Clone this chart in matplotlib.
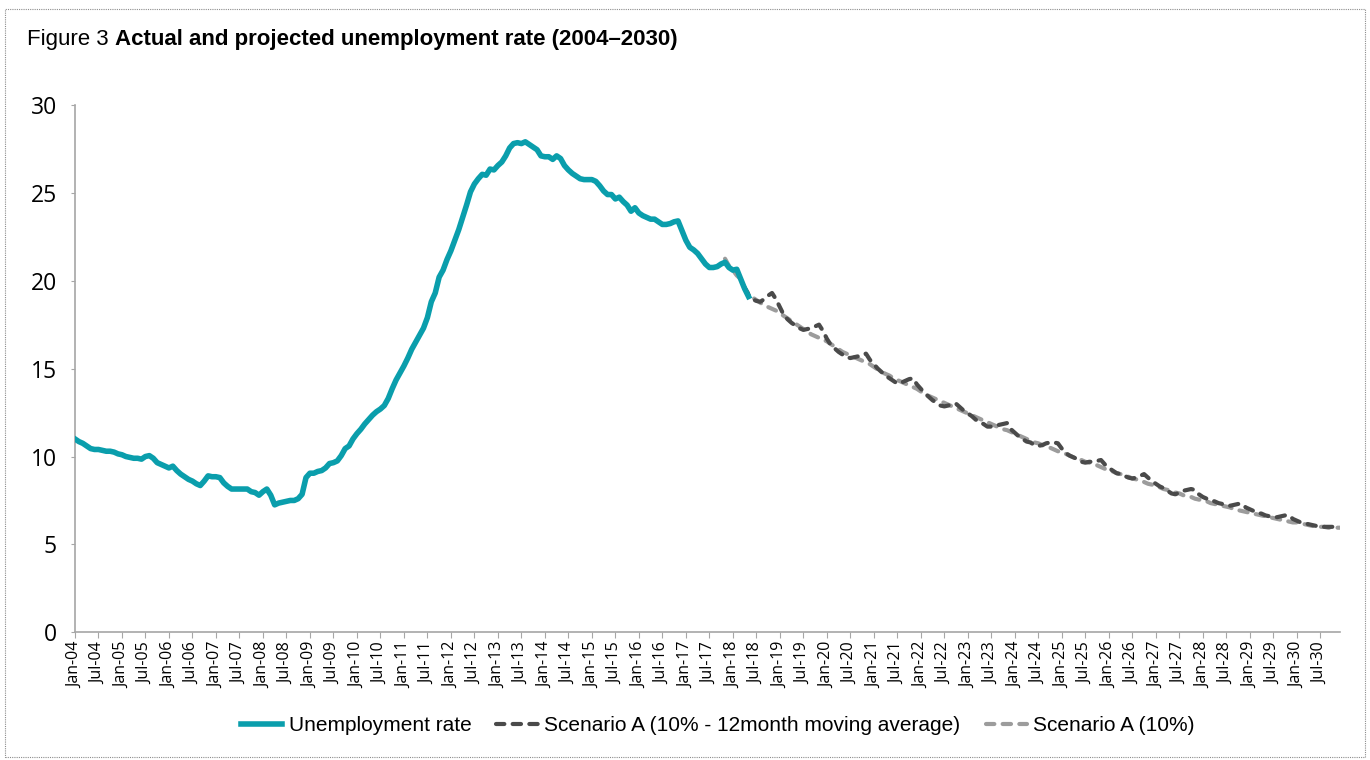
import numpy as np
import matplotlib
matplotlib.use("Agg")
import matplotlib.pyplot as plt
from matplotlib.patches import Rectangle

# monthly data, Jan-04 .. Dec-30
start_year = 2004
end_year = 2030

# actual unemployment rate, Jan-04 .. May-18
actual = [
    11.0, 10.85, 10.75, 10.6, 10.45, 10.4, 10.4, 10.35, 10.3, 10.3, 10.25, 10.15,
    10.1, 10.0, 9.95, 9.9, 9.9, 9.85, 10.0, 10.05, 9.9, 9.65, 9.55, 9.45,
    9.35, 9.45, 9.2, 9.0, 8.85, 8.7, 8.6, 8.45, 8.35, 8.6, 8.9, 8.85,
    8.85, 8.8, 8.5, 8.3, 8.15, 8.15, 8.15, 8.15, 8.15, 8.0, 7.95, 7.8,
    8.0, 8.15, 7.8, 7.25, 7.35, 7.4, 7.45, 7.5, 7.5, 7.6, 7.85, 8.8,
    9.05, 9.05, 9.15, 9.2, 9.35, 9.6, 9.65, 9.75, 10.05, 10.45, 10.6, 11.0,
    11.3, 11.55, 11.85, 12.1, 12.35, 12.55, 12.7, 12.9, 13.3, 13.85, 14.35, 14.75,
    15.15, 15.6, 16.1, 16.5, 16.9, 17.3, 17.9, 18.8, 19.3, 20.2, 20.6, 21.2,
    21.7, 22.3, 22.9, 23.6, 24.3, 25.05, 25.5, 25.8, 26.05, 26.0, 26.35, 26.3,
    26.55, 26.75, 27.1, 27.55, 27.8, 27.85, 27.8, 27.9, 27.75, 27.6, 27.45, 27.1,
    27.05, 27.05, 26.9, 27.1, 26.95, 26.55, 26.3, 26.1, 25.95, 25.8, 25.75, 25.75,
    25.75, 25.65, 25.4, 25.1, 24.9, 24.9, 24.65, 24.75, 24.5, 24.3, 23.95, 24.15,
    23.85, 23.7, 23.6, 23.5, 23.5, 23.35, 23.2, 23.2, 23.25, 23.35, 23.4, 22.85,
    22.3, 21.9, 21.75, 21.55, 21.25, 20.95, 20.75, 20.75, 20.8, 20.95, 21.05, 20.75,
    20.6, 20.65, 20.1, 19.55, 19.1,
]

# Scenario A (10% - 12month moving average), Apr-18 .. Dec-30
scen_ma_start = 171
scen_ma = [
    19.6, 19.2, 18.95, 18.85, 18.8, 18.95, 19.15, 19.3, 18.95,
    18.5, 18.05, 17.8, 17.6, 17.45, 17.3, 17.2, 17.25, 17.3, 17.4, 17.5, 17.15,
    16.7, 16.35, 16.15, 15.95, 15.8, 15.65, 15.6, 15.65, 15.7, 15.8, 15.85, 15.5,
    15.25, 15.0, 14.8, 14.6, 14.45, 14.3, 14.15, 14.2, 14.3, 14.4, 14.45, 14.1,
    13.85, 13.6, 13.4, 13.2, 13.05, 12.9, 12.85, 12.9, 13.0, 13.0, 12.8, 12.6,
    12.45, 12.3, 12.1, 11.95, 11.85, 11.7, 11.7, 11.75, 11.8, 11.85, 11.9, 11.55,
    11.35, 11.15, 11.0, 10.85, 10.8, 10.65, 10.6, 10.65, 10.75, 10.8, 10.8, 10.75,
    10.45, 10.2, 10.05, 9.95, 9.85, 9.7, 9.65, 9.7, 9.7, 9.75, 9.8, 9.55,
    9.35, 9.2, 9.05, 9.0, 8.9, 8.8, 8.75, 8.8, 8.9, 9.0, 8.8, 8.6,
    8.45, 8.3, 8.2, 8.05, 7.9, 7.85, 7.95, 8.05, 8.1, 8.15, 8.1, 7.85,
    7.7, 7.6, 7.5, 7.45, 7.35, 7.3, 7.25, 7.2, 7.25, 7.3, 7.3, 7.1,
    7.0, 6.9, 6.8, 6.75, 6.65, 6.6, 6.55, 6.55, 6.6, 6.65, 6.65, 6.45,
    6.35, 6.25, 6.2, 6.15, 6.1, 6.05, 6.0, 6.0, 6.0, 6.0, 6.0, 6.0,
]

# Scenario A (10%), Nov-17 .. Dec-30
scen_start = 166
scen = [
    21.25, 20.85, 20.6, 20.3, 20.1, 19.6, 19.25, 19.05, 18.9, 18.75, 18.6, 18.5, 18.4, 18.3,
    18.15, 18.0, 17.85, 17.7, 17.55, 17.4, 17.25, 17.1, 16.95, 16.85, 16.75, 16.65,
    16.55, 16.4, 16.25, 16.1, 15.95, 15.85, 15.75, 15.65, 15.55, 15.45, 15.35, 15.25,
    15.1, 14.95, 14.8, 14.7, 14.6, 14.45, 14.35, 14.25, 14.15, 14.05, 13.95, 13.85,
    13.7, 13.55, 13.45, 13.35, 13.25, 13.15, 13.05, 12.95, 12.85, 12.75, 12.65, 12.55,
    12.45, 12.35, 12.25, 12.15, 12.05, 11.95, 11.85, 11.75, 11.65, 11.55, 11.5, 11.4,
    11.3, 11.2, 11.1, 11.0, 10.9, 10.8, 10.75, 10.65, 10.55, 10.5, 10.4, 10.3,
    10.25, 10.15, 10.05, 9.95, 9.9, 9.8, 9.7, 9.65, 9.55, 9.5, 9.4, 9.3,
    9.25, 9.15, 9.05, 9.0, 8.9, 8.85, 8.75, 8.7, 8.6, 8.55, 8.45, 8.4,
    8.3, 8.25, 8.15, 8.1, 8.0, 7.95, 7.9, 7.8, 7.75, 7.7, 7.6, 7.55,
    7.5, 7.45, 7.35, 7.3, 7.25, 7.2, 7.15, 7.1, 7.0, 6.95, 6.9, 6.85,
    6.8, 6.75, 6.7, 6.65, 6.6, 6.55, 6.5, 6.45, 6.4, 6.35, 6.3, 6.25,
    6.25, 6.2, 6.15, 6.1, 6.05, 6.05, 6.0, 6.0, 5.95, 5.95, 5.95, 5.95,
]

months = ["Jan", "Jul"]
tick_labels = [f"{m}-{y % 100:02d}" for y in range(start_year, end_year + 1) for m in months]

n_months = (end_year - start_year + 1) * 12
x_actual = np.arange(len(actual))
x_ma = np.arange(scen_ma_start, scen_ma_start + len(scen_ma))
x_scen = np.arange(scen_start, scen_start + len(scen))

teal = "#0A9EAC"
dark = "#4A4A4A"
light = "#9C9C9C"
narrow = ["Liberation Sans", "DejaVu Sans"]

fig = plt.figure(figsize=(13.7, 7.6), dpi=100)
ax = fig.add_axes([0.0547, 0.168, 0.9233, 0.694])

ax.plot(x_scen, scen, color=light, lw=3.0, linestyle=(0, (2.0, 2.0)), dash_capstyle="round",
        label="Scenario A (10%)", zorder=2)
ax.plot(x_ma, scen_ma, color=dark, lw=3.0, linestyle=(0, (2.0, 2.0)), dash_capstyle="round",
        label="Scenario A (10% - 12month moving average)", zorder=3)
ax.plot(x_actual, actual, color=teal, lw=4.0, label="Unemployment rate", zorder=4,
        solid_joinstyle="round")

ax.set_xlim(0, n_months - 1)
ax.set_ylim(0, 30)
ax.set_yticks(range(0, 31, 5))
ax.set_xticks(np.arange(0, n_months, 6))
ax.set_xticklabels(tick_labels, rotation=90)
ax.tick_params(axis="y", length=3, color="#A6A6A6", pad=10, labelsize=16.5, labelfontfamily="Open Sans")
ax.tick_params(axis="x", length=4, color="#A6A6A6", pad=3, labelsize=11.5, labelfontfamily="Open Sans")

for s in ["top", "right"]:
    ax.spines[s].set_visible(False)
for s in ["left", "bottom"]:
    ax.spines[s].set_color("#A6A6A6")
    ax.spines[s].set_linewidth(1.2)

handles, labels = ax.get_legend_handles_labels()
order = [2, 1, 0]
leg = fig.legend([handles[i] for i in order], [labels[i] for i in order],
                 loc="center", bbox_to_anchor=(0.524, 0.045), ncol=3, frameon=False,
                 prop={"family": narrow, "size": 15},
                 handlelength=2.0, columnspacing=1.2, handletextpad=0.3)

t1 = fig.text(0.02, 0.948, "Figure 3 ", fontsize=16, va="center", ha="left", family=narrow)
ax.annotate("Actual and projected unemployment rate (2004\u20132030)", xy=(1, 0), xycoords=t1,
            fontsize=16, fontweight="bold", va="bottom", ha="left",
            family=narrow, annotation_clip=False)

fig.patches.append(Rectangle((0.004, 0.004), 0.992, 0.984, transform=fig.transFigure,
                             fill=False, edgecolor="#8C8C8C", lw=0.8, linestyle=(0, (1, 1))))

fig.savefig("out.png", dpi=100)
